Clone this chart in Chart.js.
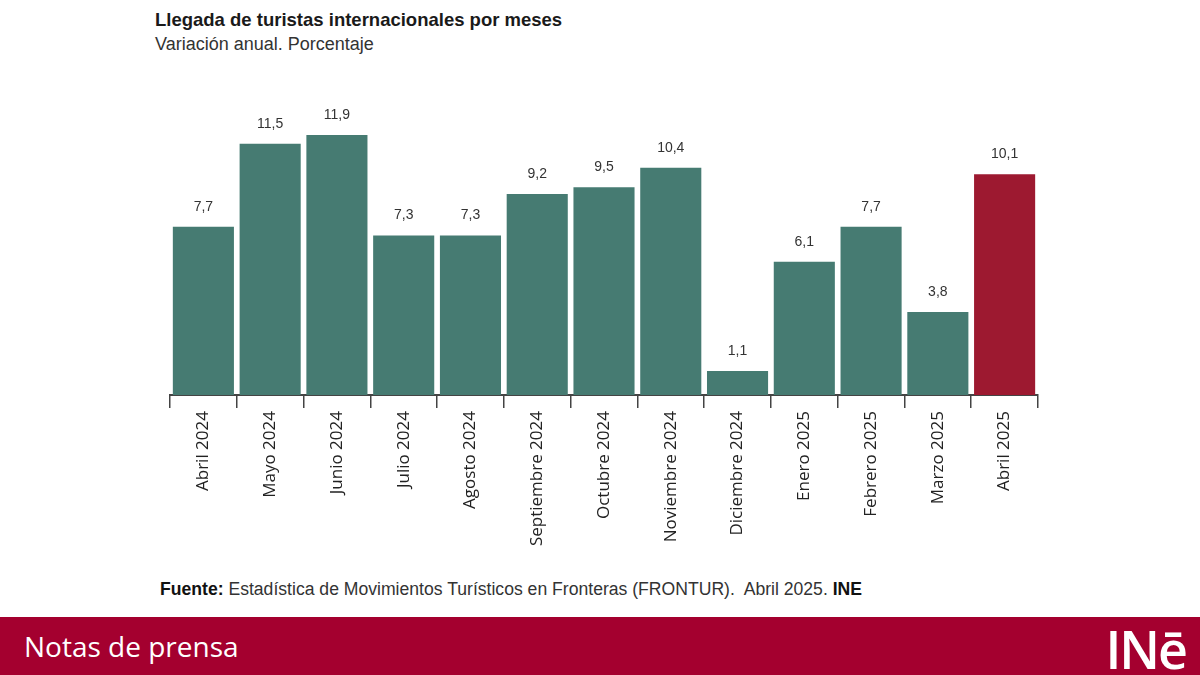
<!DOCTYPE html>
<html lang="es">
<head>
<meta charset="utf-8">
<title>Llegada de turistas internacionales por meses</title>
<script src="https://cdn.jsdelivr.net/npm/chart.js@4.4.1/dist/chart.umd.min.js"></script>
<style>
    html, body { margin: 0; padding: 0; background: #fff; }
    body { width: 1200px; height: 675px; position: relative; overflow: hidden; font-family: "Liberation Sans", Arial, sans-serif; }
    #titulo { position: absolute; left: 155px; top: 9px; font-size: 18.5px; font-weight: bold; color: #1a1a1a; }
    #subtitulo { position: absolute; left: 155px; top: 34px; font-size: 18px; color: #333; }
    #grafico { position: absolute; left: 0; top: 0; width: 1200px; height: 565px; }
    #fuente { position: absolute; left: 160px; top: 579px; font-family: "Liberation Sans Narrow", "Liberation Sans", Arial, sans-serif; font-size: 17.6px; color: #333; }
    #fuente b { color: #111; }
    #banda { position: absolute; left: 0; top: 617px; width: 1200px; height: 58px; background: #a4002f; }
    #notas { position: absolute; left: 24px; top: 10px; font-family: "Open Sans", sans-serif; font-size: 28px; color: #fff; }
    #logo { position: absolute; right: 14px; top: -4px; font-family: "Open Sans", sans-serif; font-size: 52px; font-weight: 600; color: #fff; letter-spacing: -2px; }
</style>
</head>
<body>
<div id="titulo">Llegada de turistas internacionales por meses</div>
<div id="subtitulo">Variación anual. Porcentaje</div>
<div id="grafico"><canvas id="chartTuristas"></canvas></div>
<div id="fuente"><b>Fuente:</b> Estadística de Movimientos Turísticos en Fronteras (FRONTUR).&nbsp; Abril 2025. <b>INE</b></div>
<div id="banda">
    <div id="notas">Notas de prensa</div>
    <div id="logo">INē</div>
</div>

<script>
// Datos
const meses = ['Abril 2024', 'Mayo 2024', 'Junio 2024', 'Julio 2024', 'Agosto 2024', 'Septiembre 2024',
    'Octubre 2024', 'Noviembre 2024', 'Diciembre 2024', 'Enero 2025', 'Febrero 2025', 'Marzo 2025', 'Abril 2025'];
const variacion = [7.7, 11.5, 11.9, 7.3, 7.3, 9.2, 9.5, 10.4, 1.1, 6.1, 7.7, 3.8, 10.1];
const colores = ['#467b72', '#467b72', '#467b72', '#467b72', '#467b72', '#467b72', '#467b72',
    '#467b72', '#467b72', '#467b72', '#467b72', '#467b72', '#9d1930'];

// Etiquetas de valor encima de cada barra
const etiquetasValor = {
    id: 'etiquetasValor',
    afterDatasetsDraw(chart) {
        const ctx = chart.ctx;
        const meta = chart.getDatasetMeta(0);
        ctx.save();
        ctx.font = '14px "Liberation Sans", Arial, sans-serif';
        ctx.fillStyle = '#333';
        ctx.textAlign = 'center';
        ctx.textBaseline = 'bottom';
        meta.data.forEach((bar, i) => {
            const texto = variacion[i].toFixed(1).replace('.', ',');
            ctx.fillText(texto, bar.x, bar.y - 13);
        });
        ctx.restore();
    }
};

document.addEventListener('DOMContentLoaded', () => {
    const ctx = document.getElementById('chartTuristas').getContext('2d');
    new Chart(ctx, {
        type: 'bar',
        data: {
            labels: meses,
            datasets: [{
                data: variacion,
                backgroundColor: colores,
                borderWidth: 0,
                categoryPercentage: 1,
                barPercentage: 0.915
            }]
        },
        options: {
            responsive: true,
            maintainAspectRatio: false,
            animation: false,
            layout: { padding: { left: 170, right: 162, top: 89, bottom: 0 } },
            plugins: {
                legend: { display: false },
                tooltip: { enabled: false }
            },
            scales: {
                y: {
                    display: false,
                    min: 0,
                    max: 14
                },
                x: {
                    afterFit: (scale) => { scale.height = 170; },
                    border: { display: true, color: '#444', width: 2 },
                    grid: {
                        offset: true,
                        drawOnChartArea: false,
                        drawTicks: true,
                        tickLength: 13,
                        color: '#444',
                        lineWidth: 1.5
                    },
                    ticks: {
                        minRotation: 90,
                        maxRotation: 90,
                        autoSkip: false,
                        padding: 3,
                        color: '#222',
                        font: { family: '"Open Sans", sans-serif', size: 17 }
                    }
                }
            }
        },
        plugins: [etiquetasValor]
    });
});
</script>
</body>
</html>
